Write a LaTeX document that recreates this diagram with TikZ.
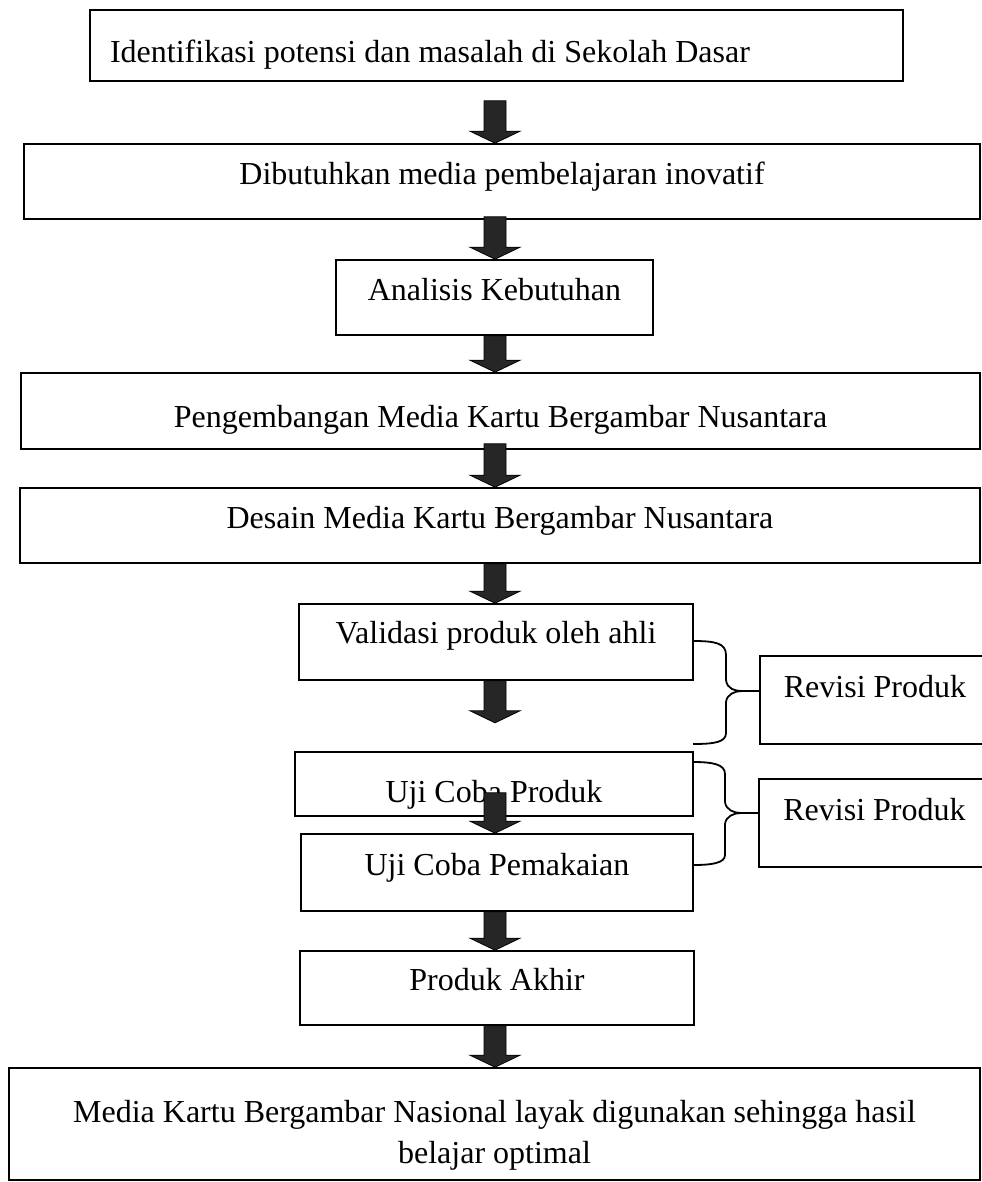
\documentclass[tikz,border=0pt]{standalone}
\usepackage{fontspec}
\setmainfont{Liberation Serif}
\usetikzlibrary{calc}
\definecolor{arrowfill}{HTML}{262626}
\tikzset{
  bx/.style={draw, line width=1.6bp, inner sep=0pt, anchor=base,
    font=\fontsize{32bp}{41bp}\selectfont},
  barrow/.style={draw=black, line width=0.8bp, fill=arrowfill, line join=miter},
  brc/.style={draw, line width=1.8bp},
}
\newcommand\blockarr[2]{%
  \path[barrow] let \p1=(#1), \p2=(#2) in
    (\x1-11bp,\y1) -- (\x1-11bp,\y2+12bp) -- (\x1-25bp,\y2+12bp) -- (\x1,\y2)
    -- (\x1+25bp,\y2+12bp) -- (\x1+11bp,\y2+12bp) -- (\x1+11bp,\y1) -- cycle;}
\begin{document}
\begin{tikzpicture}[x=1bp,y=-1bp]
\useasboundingbox (0,0) rectangle (982,1182);
\coordinate (ax) at (495,0);

\node[bx, minimum width=813bp, text height=52bp, text depth=19bp] (b1) at (496.5,62)
  {Identifikasi potensi dan masalah di Sekolah Dasar\kern133bp\null};
\node[bx, minimum width=956bp, text height=40bp, text depth=35bp] (b2) at (502,184)
  {Dibutuhkan media pembelajaran inovatif};
\node[bx, minimum width=317bp, text height=40bp, text depth=35bp] (b3) at (494.5,300)
  {Analisis Kebutuhan};
\node[bx, minimum width=959bp, text height=54bp, text depth=22bp] (b4) at (500.5,427)
  {Pengembangan Media Kartu Bergambar Nusantara};
\node[bx, minimum width=960bp, text height=40bp, text depth=35bp] (b5) at (500,528)
  {Desain Media Kartu Bergambar Nusantara};
\node[bx, minimum width=394bp, text height=39bp, text depth=37bp] (b6) at (496,643)
  {Validasi produk oleh ahli};
\node[bx, minimum width=230bp, text height=41bp, text depth=47bp] (r1) at (875,697)
  {Revisi Produk};
\node[bx, minimum width=398bp, text height=50bp, text depth=14bp] (b7) at (494,802)
  {Uji Coba Produk};
\node[bx, minimum width=231bp, text height=41bp, text depth=47bp] (r2) at (874.5,820)
  {Revisi Produk};
\node[bx, minimum width=392bp, text height=41bp, text depth=36bp] (b8) at (497,875)
  {Uji Coba Pemakaian};
\node[bx, minimum width=394bp, text height=39bp, text depth=35bp] (b9) at (497,990)
  {Produk Akhir};
\node[bx, minimum width=971bp, text height=54bp, text depth=58bp] (b10) at (494.5,1122)
  {\begin{tabular}[t]{@{}c@{}}Media Kartu Bergambar Nasional layak digunakan sehingga hasil\\ belajar optimal\end{tabular}};

% braces
\coordinate (br1t) at (693,641);
\coordinate (br1b) at (693,744);
\coordinate (br1m) at (742,691);
\draw[brc] (br1t) .. controls (715,641) and (726,643) .. (726,655) -- (726,680)
  .. controls (727,689) and (735,691) .. (br1m)
  .. controls (735,691) and (727,694) .. (726,702) -- (726,733)
  .. controls (726,742) and (715,744) .. (br1b);
\draw[brc] (br1m) -- (r1.west |- br1m);

\coordinate (br2t) at (693,762);
\coordinate (br2b) at (693,865);
\coordinate (br2m) at (741,813);
\draw[brc] (br2t) .. controls (712,762) and (725,764) .. (725,774) -- (725,802)
  .. controls (726,810) and (734,813) .. (br2m)
  .. controls (734,813) and (726,816) .. (725,824) -- (725,855)
  .. controls (725,863) and (712,865) .. (br2b);
\draw[brc] (br2m) -- (r2.west |- br2m);

% block arrows
\blockarr{$(ax|-b1.south)+(0,19)$}{ax|-b2.north}
\blockarr{$(ax|-b2.south)+(0,-3)$}{ax|-b3.north}
\blockarr{ax|-b3.south}{ax|-b4.north}
\blockarr{$(ax|-b4.south)+(0,-6)$}{ax|-b5.north}
\blockarr{ax|-b5.south}{ax|-b6.north}
\blockarr{ax|-b6.south}{$(ax|-b6.south)+(0,42)$}
\blockarr{$(ax|-b7.south)+(0,-24)$}{ax|-b8.north}
\blockarr{ax|-b8.south}{ax|-b9.north}
\blockarr{ax|-b9.south}{ax|-b10.north}
\end{tikzpicture}
\end{document}
